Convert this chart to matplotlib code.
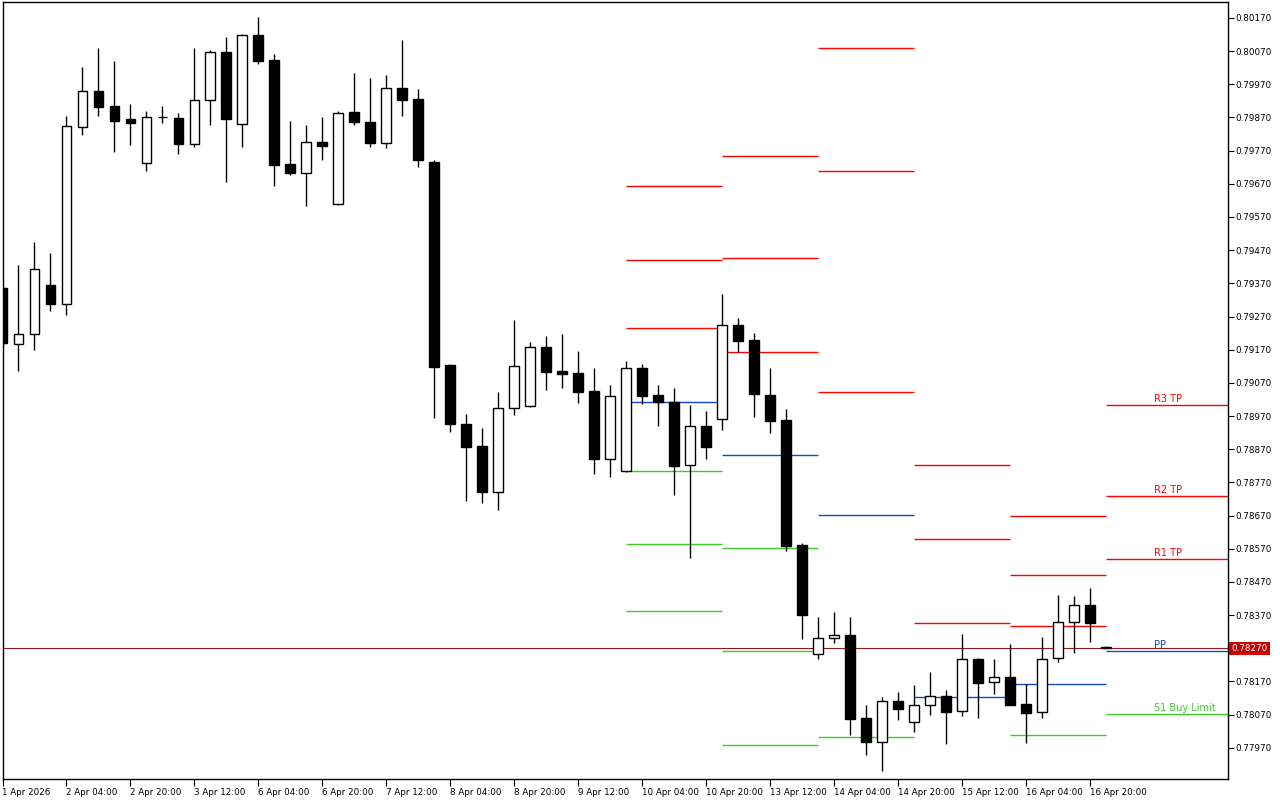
import matplotlib
matplotlib.use('Agg')
import matplotlib.pyplot as plt
import matplotlib.transforms as mtransforms

# H4 candles, 1 Apr 12:00 .. 17 Apr 00:00
opens = [0.79356, 0.79187, 0.79217, 0.79365, 0.79308, 0.79841, 0.79950, 0.79905, 0.79865, 0.79733,
         0.79871, 0.79869, 0.79790, 0.79923, 0.80068, 0.79850, 0.80119, 0.80043, 0.79730, 0.79703,
         0.79796, 0.79609, 0.79887, 0.79856, 0.79793, 0.79959, 0.79926, 0.79736, 0.79124, 0.78946,
         0.78880, 0.78741, 0.78994, 0.79000, 0.79178, 0.79106, 0.79100, 0.79045, 0.78840, 0.78804,
         0.79115, 0.79033, 0.79012, 0.78822, 0.78940, 0.78961, 0.79244, 0.79199, 0.79033, 0.78958,
         0.78581, 0.78253, 0.78301, 0.78310, 0.78060, 0.77987, 0.78111, 0.78048, 0.78099, 0.78126,
         0.78081, 0.78238, 0.78168, 0.78183, 0.78102, 0.78078, 0.78241, 0.78349, 0.78400, 0.78273]
highs = [0.79362, 0.79425, 0.79495, 0.79462, 0.79875, 0.80022, 0.80080, 0.80040, 0.79911, 0.79890,
         0.79905, 0.79884, 0.80080, 0.80074, 0.80113, 0.80122, 0.80173, 0.80061, 0.79859, 0.79847,
         0.79871, 0.79890, 0.80004, 0.79989, 0.79998, 0.80104, 0.79956, 0.79742, 0.79127, 0.78976,
         0.78934, 0.79042, 0.79260, 0.79193, 0.79211, 0.79217, 0.79166, 0.79115, 0.79064, 0.79136,
         0.79127, 0.79064, 0.79055, 0.79003, 0.78985, 0.79338, 0.79266, 0.79220, 0.79115, 0.78991,
         0.78587, 0.78364, 0.78379, 0.78364, 0.78099, 0.78123, 0.78138, 0.78159, 0.78198, 0.78144,
         0.78313, 0.78241, 0.78238, 0.78283, 0.78162, 0.78304, 0.78430, 0.78427, 0.78452, 0.78276]
lows = [0.79181, 0.79106, 0.79169, 0.79287, 0.79275, 0.79817, 0.79875, 0.79766, 0.79787, 0.79709,
        0.79853, 0.79760, 0.79781, 0.79847, 0.79676, 0.79781, 0.80031, 0.79664, 0.79697, 0.79603,
        0.79742, 0.79606, 0.79847, 0.79781, 0.79778, 0.79875, 0.79721, 0.78964, 0.78922, 0.78714,
        0.78708, 0.78687, 0.78973, 0.78997, 0.79049, 0.79055, 0.79009, 0.78795, 0.78786, 0.78801,
        0.79006, 0.78940, 0.78732, 0.78542, 0.78840, 0.78928, 0.79163, 0.78967, 0.78919, 0.78563,
        0.78298, 0.78238, 0.78286, 0.78008, 0.77948, 0.77900, 0.78054, 0.78017, 0.78069, 0.77981,
        0.78066, 0.78060, 0.78132, 0.78098, 0.77984, 0.78060, 0.78228, 0.78256, 0.78289, 0.78270]
closes = [0.79190, 0.79217, 0.79413, 0.79308, 0.79844, 0.79950, 0.79902, 0.79859, 0.79853, 0.79871,
          0.79872, 0.79790, 0.79923, 0.80068, 0.79865, 0.80119, 0.80040, 0.79727, 0.79703, 0.79796,
          0.79784, 0.79884, 0.79856, 0.79793, 0.79959, 0.79923, 0.79742, 0.79118, 0.78946, 0.78877,
          0.78741, 0.78994, 0.79121, 0.79178, 0.79103, 0.79097, 0.79042, 0.78840, 0.79030, 0.79115,
          0.79030, 0.79012, 0.78819, 0.78940, 0.78877, 0.79244, 0.79196, 0.79036, 0.78955, 0.78578,
          0.78370, 0.78301, 0.78310, 0.78057, 0.77987, 0.78111, 0.78087, 0.78099, 0.78126, 0.78078,
          0.78238, 0.78165, 0.78183, 0.78100, 0.78075, 0.78238, 0.78349, 0.78400, 0.78346, 0.78270]

time_labels = ['1 Apr 2026', '2 Apr 04:00', '2 Apr 20:00', '3 Apr 12:00', '6 Apr 04:00',
               '6 Apr 20:00', '7 Apr 12:00', '8 Apr 04:00', '8 Apr 20:00', '9 Apr 12:00',
               '10 Apr 04:00', '10 Apr 20:00', '13 Apr 12:00', '14 Apr 04:00', '14 Apr 20:00',
               '15 Apr 12:00', '16 Apr 04:00', '16 Apr 20:00']

# daily pivots (10, 13, 14, 15, 16 Apr), first bar of each day
pivot_start = [39, 45, 51, 57, 63]
r3 = [0.79664, 0.79754, 0.80080, 0.78822, 0.78669]
r2 = [0.79440, 0.79446, 0.79709, 0.78599, 0.78491]
r1 = [0.79235, 0.79163, 0.79042, 0.78346, 0.78337]
pp = [0.79012, 0.78853, 0.78672, 0.78123, 0.78162]
s1 = [0.78804, 0.78572, 0.78002, 0.77870, 0.78008]
s2 = [0.78584, 0.78262, 0.77635, 0.77647, 0.77833]
s3 = [0.78382, 0.77978, 0.76965, 0.77394, 0.77679]

# today's levels (17 Apr)
today_start = 69
today_names = ['R3 TP', 'R2 TP', 'R1 TP', 'PP', 'S1 Buy Limit']
today_levels = [0.79003, 0.78729, 0.78539, 0.78262, 0.78072]

last_price = 0.78270

RED = '#ff0000'
BLUE = '#1048c8'
GREEN = '#3ccc28'
FS = 6.3

fig = plt.figure(figsize=(12.8, 8), dpi=100)
ax = fig.add_axes([2.5 / 1280, 21 / 800, 1225.5 / 1280, 777 / 800])
ax.set_xlim(0.0125, 76.61)
ax.set_ylim(0.77876, 0.80218)

# candles
n = len(opens)
xs = list(range(n))
ax.vlines(xs, lows, highs, color='black', linewidth=1.0, zorder=2)
bottoms = [min(o, c) for o, c in zip(opens, closes)]
heights = [max(abs(c - o), 0.000008) for o, c in zip(opens, closes)]
fills = ['white' if c >= o else 'black' for o, c in zip(opens, closes)]
ax.bar(xs, heights, bottom=bottoms, width=0.62, color=fills, edgecolor='black',
       linewidth=1.0, zorder=3)

# pivot segments per day
for i, start in enumerate(pivot_start):
    end = pivot_start[i + 1] if i + 1 < len(pivot_start) else today_start
    for lev, col in [(r3[i], RED), (r2[i], RED), (r1[i], RED), (pp[i], BLUE),
                     (s1[i], GREEN), (s2[i], GREEN), (s3[i], GREEN)]:
        ax.hlines(lev, start, end, color=col, linewidth=1.0, zorder=1)

xmax = ax.get_xlim()[1]
today_colors = [RED, RED, RED, BLUE, GREEN]
for name, lev, col in zip(today_names, today_levels, today_colors):
    ax.hlines(lev, today_start, xmax, color=col, linewidth=1.0, zorder=1)
    ax.text(72, lev + 0.00004, name, color=col, fontsize=7, ha='left', va='bottom')

# current price line and label
ax.axhline(last_price, color='#8b1a1a', linewidth=0.8, zorder=1)
trans = mtransforms.blended_transform_factory(ax.transAxes, ax.transData)
ax.text(1.0025, last_price, '%.5f' % last_price, transform=trans, color='white',
        fontsize=FS, ha='left', va='center', clip_on=False,
        bbox=dict(boxstyle='square,pad=0.25', fc='#c80000', ec='none'))

# axes
yt = [0.77970 + 0.001 * k for k in range(23)]
ax.yaxis.tick_right()
ax.set_yticks(yt)
ax.set_yticklabels(['' if abs(v - last_price) < 1e-6 else '%.5f' % v for v in yt])
ax.tick_params(axis='y', direction='out', length=4, width=0.8, pad=1, labelsize=FS)
ax.set_xticks(list(range(0, 4 * len(time_labels), 4)))
ax.set_xticklabels(time_labels)
ax.tick_params(axis='x', direction='out', length=5, width=0.8, pad=1.5, labelsize=FS)
for lab in ax.get_xticklabels():
    lab.set_horizontalalignment('left')
for s in ax.spines.values():
    s.set_linewidth(1.0)
    s.set_color('black')

fig.savefig('out.png', dpi=100)
